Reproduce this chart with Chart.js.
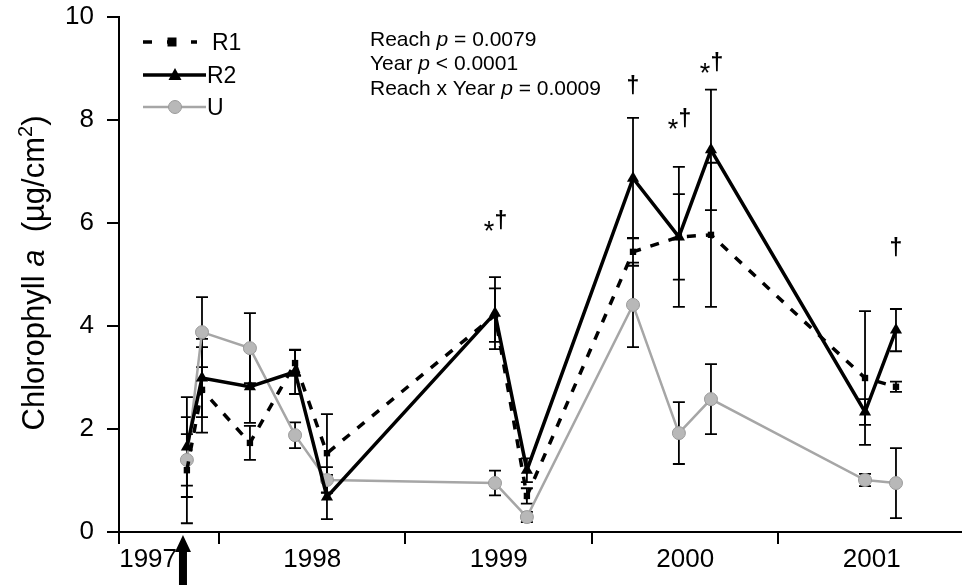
<!DOCTYPE html>
<html><head><meta charset="utf-8">
<script src="https://cdn.jsdelivr.net/npm/chart.js@4.4.0/dist/chart.umd.min.js"></script>
<style>html,body{margin:0;padding:0;background:#fff;}canvas{display:block;}</style>
</head><body>
<canvas id="c" width="962" height="585"></canvas>
<script>
const FONT = '"Liberation Sans", Arial, Helvetica, sans-serif';

// sampling dates (decimal years)
const sampleDates = [1997.828, 1997.909, 1998.166, 1998.408, 1998.579, 1999.480, 1999.651, 2000.220, 2000.466, 2000.638, 2001.464, 2001.630];
// series means and standard errors (µg/cm²)
const r1Mean = [1.20, 2.76, 1.73, 3.28, 1.53, 4.21, 0.70, 5.44, 5.73, 5.77, 2.99, 2.82];
const r1Err  = [1.03, 0.83, 0.33, 0.25, 0.76, 0.52, 0.15, 0.27, 0.83, 1.40, 1.30, 0.10];
const r2Mean = [1.65, 2.99, 2.82, 3.11, 0.68, 4.25, 1.20, 6.87, 5.73, 7.42, 2.33, 3.92];
const r2Err  = [0.97, 0.76, 0.70, 0.43, 0.43, 0.70, 0.23, 1.17, 1.36, 1.17, 0.25, 0.41];
const uMean  = [1.40, 3.88, 3.57, 1.88, 1.01, 0.95, 0.29, 4.41, 1.92, 2.58, 1.01, 0.95];
const uErr   = [0.50, 0.68, 0.68, 0.25, 0.25, 0.24, 0.10, 0.82, 0.60, 0.68, 0.12, 0.68];
// significance marks per sampling date and the level they sit at
const sigText  = ['', '', '', '', '', '*†', '', '†', '*†', '*†', '', '†'];
const sigLevel = [null, null, null, null, null, 5.96, null, 8.68, 7.94, 9.03, null, 5.53];
// x axis labels and year boundaries
const xLabelText = ['1997', '1998', '1999', '2000', '2001'];
const xLabelAt   = [1997.62, 1998.5, 1999.5, 2000.5, 2001.5];
const yearStarts = [1998, 1999, 2000, 2001];
const xMin = 1997.464, xMax = 2001.984;
const treatmentDate = 1997.807;
const statsLines = [
  ['Reach ', 'p', ' = 0.0079'],
  ['Year ', 'p', ' < 0.0001'],
  ['Reach x Year ', 'p', ' = 0.0009']
];
const seriesNames = ['R1', 'R2', 'U'];

const toPts = (m) => sampleDates.map((d, i) => ({x: d, y: m[i]}));

const errorBars = {
  id: 'errorBars',
  beforeDatasetsDraw(chart) {
    const {ctx, scales: {x, y}} = chart;
    const sets = [[r1Mean, r1Err], [r2Mean, r2Err], [uMean, uErr]];
    ctx.save();
    ctx.strokeStyle = '#000';
    ctx.lineWidth = 1.8;
    sets.forEach(([m, e]) => {
      sampleDates.forEach((d, i) => {
        const px = x.getPixelForValue(d);
        const t = y.getPixelForValue(m[i] + e[i]);
        const b = y.getPixelForValue(Math.max(0, m[i] - e[i]));
        ctx.beginPath();
        ctx.moveTo(px, t); ctx.lineTo(px, b);
        ctx.moveTo(px - 6, t); ctx.lineTo(px + 6, t);
        ctx.moveTo(px - 6, b); ctx.lineTo(px + 6, b);
        ctx.stroke();
      });
    });
    ctx.restore();
  }
};

const decorations = {
  id: 'decorations',
  afterDraw(chart) {
    const {ctx, scales: {x, y}, chartArea} = chart;
    ctx.save();
    ctx.fillStyle = '#000';
    // y axis title
    const parts = [
      {t: 'Chlorophyll ', f: '31px ' + FONT, dy: 0},
      {t: 'a', f: 'italic 31px ' + FONT, dy: 0},
      {t: '  (µg/cm', f: '31px ' + FONT, dy: 0},
      {t: '2', f: '20px ' + FONT, dy: -12},
      {t: ')', f: '31px ' + FONT, dy: 0}
    ];
    let total = 0;
    parts.forEach(p => { ctx.font = p.f; p.w = ctx.measureText(p.t).width; total += p.w; });
    ctx.save();
    ctx.translate(44, 273);
    ctx.rotate(-Math.PI / 2);
    ctx.textBaseline = 'alphabetic';
    ctx.textAlign = 'left';
    let cx = -total / 2;
    parts.forEach(p => { ctx.font = p.f; ctx.fillText(p.t, cx, p.dy); cx += p.w; });
    ctx.restore();

    // stats text
    ctx.textBaseline = 'alphabetic';
    ctx.textAlign = 'left';
    statsLines.forEach((ln, k) => {
      let tx = 370;
      const ty = 45.5 + k * 24.5;
      ln.forEach((s, j) => {
        ctx.font = (j === 1 ? 'italic ' : '') + '21px ' + FONT;
        ctx.fillText(s, tx, ty);
        tx += ctx.measureText(s).width;
      });
    });

    // significance marks
    sampleDates.forEach((d, i) => {
      const s = sigText[i];
      if (!s) return;
      const px = x.getPixelForValue(d);
      const py = y.getPixelForValue(sigLevel[i]);
      if (s.indexOf('*') >= 0) {
        ctx.font = '27px ' + FONT;
        ctx.textAlign = 'center';
        ctx.fillText('*', px - 6, py + 15);
        ctx.font = 'bold 23px ' + FONT;
        ctx.fillText('†', px + 6, py + 3);
      } else {
        ctx.font = 'bold 23px ' + FONT;
        ctx.textAlign = 'center';
        ctx.fillText('†', px, py + 8);
      }
    });

    // treatment arrow
    const ax = x.getPixelForValue(treatmentDate);
    ctx.beginPath();
    ctx.moveTo(ax, 535);
    ctx.lineTo(ax + 8, 552);
    ctx.lineTo(ax + 4, 552);
    ctx.lineTo(ax + 4, 585);
    ctx.lineTo(ax - 4, 585);
    ctx.lineTo(ax - 4, 552);
    ctx.lineTo(ax - 8, 552);
    ctx.closePath();
    ctx.fill();

    // legend
    const rows = [42, 75, 107];
    const ds = chart.data.datasets;
    ds.forEach((dset, k) => {
      const ry = rows[k];
      ctx.save();
      ctx.strokeStyle = dset.borderColor;
      ctx.lineWidth = dset.borderWidth;
      ctx.setLineDash(k === 0 ? [9, 15] : []);
      ctx.beginPath();
      ctx.moveTo(143, ry);
      ctx.lineTo(k === 0 ? 197 : 206, ry);
      ctx.stroke();
      ctx.setLineDash([]);
      ctx.fillStyle = dset.pointBackgroundColor;
      ctx.strokeStyle = dset.pointBorderColor;
      ctx.lineWidth = dset.pointBorderWidth;
      const mx = k === 0 ? 172 : 175;
      ctx.beginPath();
      if (dset.pointStyle === 'rect') {
        ctx.rect(mx - 4.5, ry - 4.5, 9, 9);
      } else if (dset.pointStyle === 'triangle') {
        ctx.moveTo(mx, ry - 7); ctx.lineTo(mx + 6.5, ry + 5); ctx.lineTo(mx - 6.5, ry + 5); ctx.closePath();
      } else {
        ctx.arc(mx, ry, 6.5, 0, Math.PI * 2);
      }
      ctx.fill();
      if (dset.pointBorderWidth) ctx.stroke();
      ctx.restore();
      ctx.font = '23px ' + FONT;
      ctx.textAlign = 'left';
      ctx.textBaseline = 'alphabetic';
      ctx.fillStyle = '#000';
      ctx.fillText(seriesNames[k], k === 0 ? 212 : 207, ry + 8);
    });
    ctx.restore();
  }
};

new Chart(document.getElementById('c'), {
  type: 'line',
  data: {
    datasets: [
      {label: seriesNames[0], data: toPts(r1Mean), borderColor: '#000', borderWidth: 3.5, borderDash: [9, 10],
       pointStyle: 'rect', pointRadius: 4.5, pointBackgroundColor: '#000', pointBorderColor: '#000', pointBorderWidth: 0, order: 2},
      {label: seriesNames[1], data: toPts(r2Mean), borderColor: '#000', borderWidth: 3.5,
       pointStyle: 'triangle', pointRadius: 7, pointBackgroundColor: '#000', pointBorderColor: '#000', pointBorderWidth: 0, order: 1},
      {label: seriesNames[2], data: toPts(uMean), borderColor: '#a6a6a6', borderWidth: 2.5,
       pointStyle: 'circle', pointRadius: 6.5, pointBackgroundColor: '#b8b8b8', pointBorderColor: '#9a9a9a', pointBorderWidth: 1, order: 3}
    ]
  },
  options: {
    responsive: false,
    animation: false,
    devicePixelRatio: 1,
    layout: {autoPadding: false, padding: {top: 17, left: 0, right: 0, bottom: 0}},
    plugins: {legend: {display: false}, tooltip: {enabled: false}},
    scales: {
      x: {
        type: 'linear', min: xMin, max: xMax,
        afterBuildTicks: (s) => {
          s.ticks = [xMin].concat(xLabelAt, yearStarts).sort((a, b) => a - b).map(v => ({value: v}));
        },
        afterFit: (s) => { s.height = 53; s.paddingLeft = 0; s.paddingRight = 0; },
        ticks: {
          autoSkip: false, maxRotation: 0, minRotation: 0, padding: 0, color: '#000',
          font: {family: FONT, size: 26},
          callback: (v) => { const i = xLabelAt.indexOf(v); return i >= 0 ? xLabelText[i] : ''; }
        },
        grid: {
          drawOnChartArea: false, tickLength: 12, lineWidth: 2,
          color: (c) => (c.tick && xLabelAt.indexOf(c.tick.value) >= 0) ? 'rgba(0,0,0,0)' : '#000'
        },
        border: {display: true, color: '#000', width: 2}
      },
      y: {
        min: 0, max: 10,
        afterFit: (s) => { s.width = 119; s.paddingTop = 0; s.paddingBottom = 0; },
        ticks: {stepSize: 2, padding: 13, color: '#000', font: {family: FONT, size: 26}},
        grid: {drawOnChartArea: false, tickLength: 12, lineWidth: 2, color: '#000'},
        border: {display: true, color: '#000', width: 2}
      }
    }
  },
  plugins: [errorBars, decorations]
});
</script>
</body></html>
